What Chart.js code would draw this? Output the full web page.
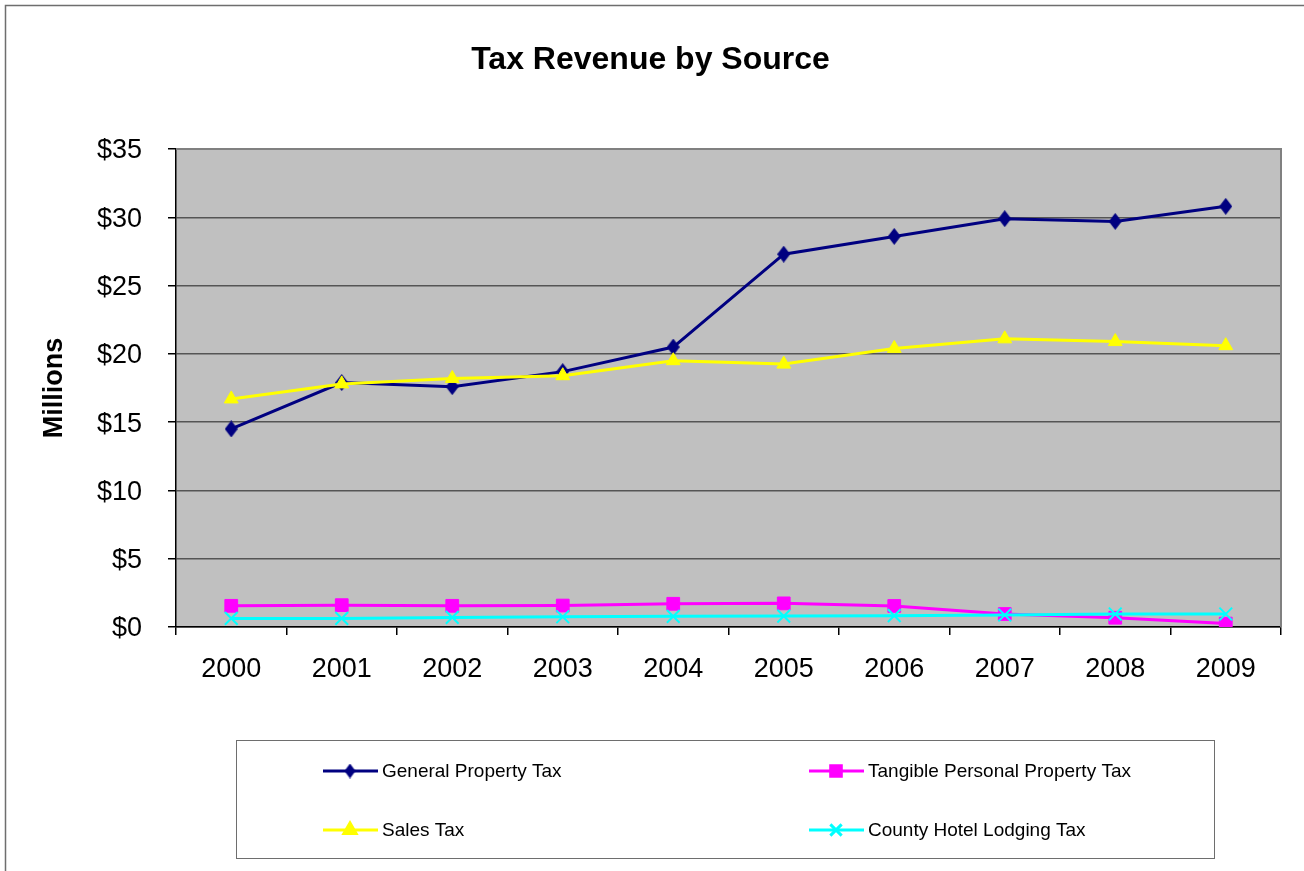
<!DOCTYPE html>
<html>
<head>
<meta charset="utf-8">
<title>Tax Revenue by Source</title>
<script src="https://cdn.jsdelivr.net/npm/chart.js@4.4.0/dist/chart.umd.min.js"></script>
<style>
  html, body { margin: 0; padding: 0; background: #fff; }
  #wrap { width: 1304px; height: 871px; position: relative; }
</style>
</head>
<body>
<div id="wrap"><canvas id="taxChart"></canvas></div>
<script>
// Revenue in millions of dollars, by fiscal year
const years = ['2000', '2001', '2002', '2003', '2004', '2005', '2006', '2007', '2008', '2009'];
const generalProperty = [14.5, 17.9, 17.6, 18.7, 20.5, 27.3, 28.6, 29.9, 29.7, 30.8];
const tangiblePersonal = [1.55, 1.6, 1.55, 1.57, 1.7, 1.73, 1.54, 0.95, 0.68, 0.25];
const salesTax = [16.7, 17.8, 18.2, 18.4, 19.5, 19.25, 20.4, 21.1, 20.9, 20.6];
const hotelLodging = [0.63, 0.63, 0.7, 0.75, 0.78, 0.8, 0.83, 0.88, 0.95, 0.95];
const yTicks = [0, 5, 10, 15, 20, 25, 30, 35];

const FONT = "'Liberation Sans', Arial, sans-serif";

// narrow diamond marker like the spreadsheet one
function diamondImage(w, h, color) {
    const c = document.createElement('canvas');
    c.width = w; c.height = h;
    const g = c.getContext('2d');
    g.fillStyle = color;
    g.beginPath();
    g.moveTo(w / 2, 0);
    g.lineTo(w, h / 2);
    g.lineTo(w / 2, h);
    g.lineTo(0, h / 2);
    g.closePath();
    g.fill();
    return c;
}

const diamond = diamondImage(13, 17, '#000080');
const diamondSmall = diamondImage(11, 15, '#000080');

// grey plot background, frame around the whole chart
const framePlugin = {
    id: 'frame',
    beforeDraw(chart) {
        const ctx = chart.ctx;
        const a = chart.chartArea;
        ctx.save();
        ctx.fillStyle = '#ffffff';
        ctx.fillRect(0, 0, chart.width, chart.height);
        ctx.strokeStyle = '#6e6e6e';
        ctx.lineWidth = 1.5;
        ctx.strokeRect(5.5, 5.5, chart.width + 20, chart.height + 20);
        ctx.fillStyle = '#c0c0c0';
        ctx.fillRect(a.left, a.top, a.right - a.left, a.bottom - a.top);
        ctx.restore();
    },
    afterDraw(chart) {
        const ctx = chart.ctx;
        const a = chart.chartArea;
        ctx.save();
        ctx.strokeStyle = '#808080';
        ctx.lineWidth = 2;
        ctx.beginPath();
        ctx.moveTo(a.left, a.top);
        ctx.lineTo(a.right, a.top);
        ctx.lineTo(a.right, a.bottom);
        ctx.stroke();
        ctx.restore();
    }
};

// boxed two-column legend under the plot
const boxLegend = {
    id: 'boxLegend',
    afterDraw(chart) {
        const ctx = chart.ctx;
        const a = chart.chartArea;
        const boxW = 978, boxH = 118;
        const left = Math.round((a.left + a.right) / 2 - boxW / 2) - 4;
        const top = a.bottom + 113;
        ctx.save();
        ctx.strokeStyle = '#6e6e6e';
        ctx.lineWidth = 1;
        ctx.strokeRect(left + 0.5, top + 0.5, boxW, boxH);

        const cols = [left + 87, left + 573];
        const rows = [top + 31, top + 90];
        chart.data.datasets.forEach((ds, i) => {
            const x = cols[i % 2];
            const y = rows[Math.floor(i / 2)];
            ctx.strokeStyle = ds.borderColor;
            ctx.lineWidth = 3;
            ctx.beginPath();
            ctx.moveTo(x, y);
            ctx.lineTo(x + 55, y);
            ctx.stroke();
            const style = ds.legendStyle || {};
            ctx.fillStyle = ds.pointBackgroundColor;
            ctx.strokeStyle = ds.pointBorderColor;
            Chart.helpers.drawPoint(ctx, {
                pointStyle: style.pointStyle || ds.pointStyle,
                radius: style.radius || ds.pointRadius,
                borderWidth: ds.pointBorderWidth,
                rotation: 0
            }, x + 27, y);
            ctx.fillStyle = '#000';
            ctx.font = '19px ' + FONT;
            ctx.textBaseline = 'middle';
            ctx.textAlign = 'left';
            ctx.fillText(ds.label, x + 59, y + 1);
        });
        ctx.restore();
    }
};

new Chart(document.getElementById('taxChart'), {
    type: 'line',
    data: {
        labels: years,
        datasets: [
            {
                label: 'General Property Tax',
                data: generalProperty,
                borderColor: '#000080',
                pointBackgroundColor: '#000080',
                pointBorderColor: '#000080',
                pointStyle: diamond,
                pointRadius: 8,
                pointBorderWidth: 1,
                borderWidth: 3,
                order: 4,
                legendStyle: { pointStyle: diamondSmall, radius: 7 }
            },
            {
                label: 'Tangible Personal Property Tax',
                data: tangiblePersonal,
                borderColor: '#ff00ff',
                pointBackgroundColor: '#ff00ff',
                pointBorderColor: '#ff00ff',
                pointStyle: 'rect',
                pointRadius: 9,
                pointBorderWidth: 1,
                borderWidth: 3,
                order: 3,
                legendStyle: { radius: 7.5 }
            },
            {
                label: 'Sales Tax',
                data: salesTax,
                borderColor: '#ffff00',
                pointBackgroundColor: '#ffff00',
                pointBorderColor: '#ffff00',
                pointStyle: 'triangle',
                pointRadius: 8,
                pointBorderWidth: 1,
                borderWidth: 3,
                order: 2,
                legendStyle: { radius: 7 }
            },
            {
                label: 'County Hotel Lodging Tax',
                data: hotelLodging,
                borderColor: '#00ffff',
                pointBackgroundColor: '#00ffff',
                pointBorderColor: '#00ffff',
                pointStyle: 'crossRot',
                pointRadius: 9,
                pointBorderWidth: 2,
                borderWidth: 3,
                order: 1,
                legendStyle: { radius: 8 }
            }
        ]
    },
    options: {
        responsive: true,
        maintainAspectRatio: false,
        animation: false,
        layout: {
            padding: { left: 20, right: 23, top: 0, bottom: 174 }
        },
        elements: {
            line: { tension: 0 }
        },
        plugins: {
            legend: { display: false },
            tooltip: { enabled: false },
            title: {
                display: true,
                text: 'Tax Revenue by Source',
                color: '#000',
                font: { family: FONT, size: 32, weight: 'bold' },
                padding: { top: 41, bottom: 69.6 }
            }
        },
        scales: {
            x: {
                offset: true,
                grid: {
                    offset: true,
                    drawOnChartArea: false,
                    drawTicks: true,
                    tickLength: 8,
                    tickColor: '#000',
                    lineWidth: 1.5
                },
                border: { color: '#000', width: 1.5 },
                ticks: {
                    color: '#000',
                    padding: 18,
                    font: { family: FONT, size: 27 }
                },
                afterFit(scale) { scale.height = 70; }
            },
            y: {
                min: 0,
                max: 35,
                afterBuildTicks(scale) {
                    scale.ticks = yTicks.map(v => ({ value: v }));
                },
                grid: {
                    color: '#555555',
                    lineWidth: 1.5,
                    tickLength: 8,
                    tickColor: '#000'
                },
                border: { color: '#000', width: 1.5 },
                ticks: {
                    color: '#000',
                    padding: 26,
                    labelOffset: 2,
                    font: { family: FONT, size: 27 },
                    callback: v => '$' + v
                },
                title: {
                    display: true,
                    text: 'Millions',
                    color: '#000',
                    padding: { top: 18, bottom: 0 },
                    font: { family: FONT, size: 27, weight: 'bold' }
                },
                afterFit(scale) { scale.width = 156; }
            }
        }
    },
    plugins: [framePlugin, boxLegend]
});
</script>
</body>
</html>
